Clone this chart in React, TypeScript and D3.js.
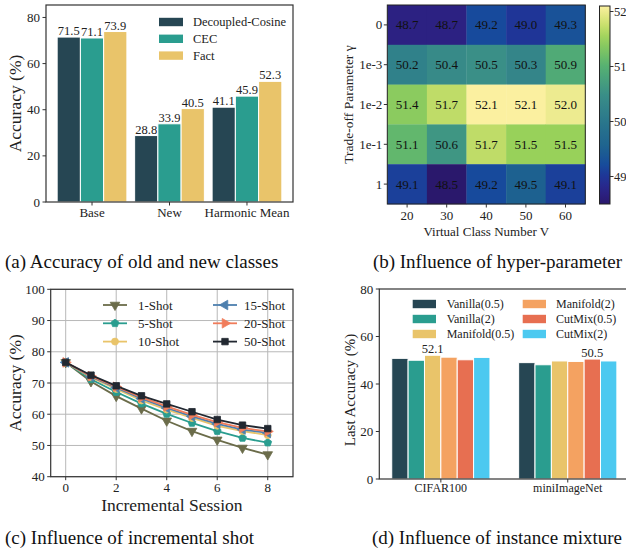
import React from 'react';
import * as d3 from 'd3';

// ---------- (a) data ----------
const groupsA = ['Base', 'New', 'Harmonic Mean'];
const methodsA = ['Decoupled-Cosine', 'CEC', 'Fact'];
const decoupledCosine = [71.5, 28.8, 41.1];
const cecVals = [71.1, 33.9, 45.9];
const factVals = [73.9, 40.5, 52.3];
const colorsA = ['#264653', '#2a9d8f', '#e9c46a'];
const yTicksA = [0, 20, 40, 60, 80];

// ---------- (b) data ----------
const virtualNums = ['20', '30', '40', '50', '60'];
const gammaLabels = ['0', '1e-3', '1e-2', '1e-1', '1'];
const row0 = [48.7, 48.7, 49.2, 49.0, 49.3];
const row1e3 = [50.2, 50.4, 50.5, 50.3, 50.9];
const row1e2 = [51.4, 51.7, 52.1, 52.1, 52.0];
const row1e1 = [51.1, 50.6, 51.7, 51.5, 51.5];
const row1 = [49.1, 48.5, 49.2, 49.5, 49.1];
const cbTicks = [49, 50, 51, 52];
const cmapStops = [48.5, 48.75, 49.0, 49.2, 49.5, 50.0, 50.5, 51.0, 51.5, 51.8, 52.1];
const cmapColors = ['#2a186c', '#2c2388', '#1f3597', '#174a9c', '#1d6190', '#2a778c', '#3a8f87', '#55b172', '#98d15a', '#d2e26f', '#fbf0a0'];

// ---------- (c) data ----------
const sessions = [0, 1, 2, 3, 4, 5, 6, 7, 8];
const shotNames = ['1-Shot', '5-Shot', '10-Shot', '15-Shot', '20-Shot', '50-Shot'];
const shot1 = [76.6, 70.5, 65.8, 61.8, 57.9, 54.6, 51.8, 49.2, 47.1];
const shot5 = [76.6, 71.2, 67.1, 63.4, 60.1, 57.2, 54.6, 52.4, 50.9];
const shot10 = [76.6, 71.8, 68.1, 64.4, 61.5, 58.8, 56.3, 54.6, 53.3];
const shot15 = [76.6, 72.0, 68.5, 65.0, 62.0, 59.3, 56.9, 55.1, 54.0];
const shot20 = [76.6, 72.2, 68.8, 65.4, 62.5, 59.8, 57.5, 55.6, 54.5];
const shot50 = [76.6, 72.5, 69.1, 65.9, 63.3, 60.8, 58.3, 56.5, 55.4];
const shotColors = ['#6b6c4a', '#2a9d8f', '#e9c46a', '#4d7fae', '#f07c5b', '#222831'];
const shotMarkers = ['v', 'p', 'o', '<', '>', 's'];
const xTicksC = [0, 2, 4, 6, 8];
const yTicksC = [40, 50, 60, 70, 80, 90, 100];

// ---------- (d) data ----------
const datasetsD = ['CIFAR100', 'miniImageNet'];
const mixNames = ['Vanilla(0.5)', 'Vanilla(2)', 'Manifold(0.5)', 'Manifold(2)', 'CutMix(0.5)', 'CutMix(2)'];
const cifarVals = [50.8, 50.0, 52.1, 51.3, 50.2, 51.2];
const miniVals = [49.0, 48.1, 49.7, 49.5, 50.5, 49.7];
const colorsD = ['#264653', '#2a9d8f', '#e9c46a', '#f4a261', '#e76f51', '#4cc9f0'];
const yTicksD = [0, 20, 40, 60, 80];
const annotD = [{ g: 0, i: 2, text: '52.1' }, { g: 1, i: 4, text: '50.5' }];

const FONT = '"Liberation Serif", "Times New Roman", serif';
const SPINE = '#333';

const symbolPentagon = {
  draw(ctx: any, size: number) {
    const r = Math.sqrt(size / ((5 / 2) * Math.sin((2 * Math.PI) / 5)));
    for (let i = 0; i < 5; i++) {
      const a = -Math.PI / 2 + (i * 2 * Math.PI) / 5;
      const x = r * Math.cos(a);
      const y = r * Math.sin(a);
      if (i === 0) ctx.moveTo(x, y);
      else ctx.lineTo(x, y);
    }
    ctx.closePath();
  },
};

function markerPath(m: string) {
  if (m === 'o') return { d: d3.symbol().type(d3.symbolCircle).size(38)() as string, rot: 0 };
  if (m === 's') return { d: d3.symbol().type(d3.symbolSquare).size(42)() as string, rot: 0 };
  if (m === 'p') return { d: d3.symbol().type(symbolPentagon as any).size(40)() as string, rot: 0 };
  const tri = d3.symbol().type(d3.symbolTriangle).size(40)() as string;
  if (m === 'v') return { d: tri, rot: 180 };
  if (m === '<') return { d: tri, rot: -90 };
  return { d: tri, rot: 90 };
}

function Marker({ m, x, y, color }: { m: string; x: number; y: number; color: string }) {
  const p = markerPath(m);
  return <path d={p.d} transform={`translate(${x},${y}) rotate(${p.rot})`} fill={color} stroke={color} strokeWidth={0.8} />;
}

function PanelA() {
  const L = 46, R = 293, T = 5, B = 202;
  const x = d3.scaleLinear().domain([-0.594, 2.594]).range([L, R]);
  const y = d3.scaleLinear().domain([0, 85.4]).range([B, T]);
  const series = [decoupledCosine, cecVals, factVals];
  const bw = 0.3;
  return (
    <g>
      {series.map((vals, si) =>
        vals.map((v, gi) => {
          const cx = x(gi + (si - 1) * bw);
          const x0 = x(gi + (si - 1) * bw - bw / 2);
          const x1 = x(gi + (si - 1) * bw + bw / 2);
          return (
            <g key={`${si}-${gi}`}>
              <rect x={x0} y={y(v)} width={x1 - x0} height={y(0) - y(v)} fill={colorsA[si]} stroke="#fff" strokeWidth={1} />
              <text x={cx} y={y(v) - 2} textAnchor="middle" fontSize={12.5} fontFamily={FONT} fill="#222">{v.toFixed(1)}</text>
            </g>
          );
        })
      )}
      <rect x={L} y={T} width={R - L} height={B - T} fill="none" stroke={SPINE} strokeWidth={1.2} />
      {yTicksA.map((t) => (
        <g key={t}>
          <line x1={L - 3.5} x2={L} y1={y(t)} y2={y(t)} stroke={SPINE} />
          <text x={L - 6} y={y(t)} dy="0.35em" textAnchor="end" fontSize={13} fontFamily={FONT} fill="#222">{t}</text>
        </g>
      ))}
      {groupsA.map((g, gi) => (
        <g key={g}>
          <line x1={x(gi)} x2={x(gi)} y1={B} y2={B + 3.5} stroke={SPINE} />
          <text x={x(gi)} y={217} textAnchor="middle" fontSize={13} fontFamily={FONT} fill="#222">{g}</text>
        </g>
      ))}
      <text transform={`translate(15,${(T + B) / 2}) rotate(-90)`} dy="0.35em" textAnchor="middle" fontSize={17.5} fontFamily={FONT} fill="#222">Accuracy (%)</text>
      {methodsA.map((m, i) => (
        <g key={m}>
          <rect x={159} y={22 + i * 16.8 - 4.2} width={24} height={8.4} fill={colorsA[i]} />
          <text x={193} y={22 + i * 16.8} dy="0.35em" fontSize={12.5} fontFamily={FONT} fill="#222">{m}</text>
        </g>
      ))}
    </g>
  );
}

function PanelB() {
  const L = 387.3, R = 585.3, T = 5, B = 204;
  const rows = [row0, row1e3, row1e2, row1e1, row1];
  const xb = d3.scaleBand().domain(virtualNums).range([L, R]);
  const yb = d3.scaleBand().domain(gammaLabels).range([T, B]);
  const color = d3.scaleLinear<string>().domain(cmapStops).range(cmapColors).interpolate(d3.interpolateRgb);
  const cbL = 599.5, cbR = 610, cbT = 6, cbB = 204;
  const cy = d3.scaleLinear().domain([48.5, 52.1]).range([cbB, cbT]);
  const gradStops = d3.range(0, 1.0001, 0.05);
  return (
    <g>
      <defs>
        <linearGradient id="cbgrad" x1="0" y1="1" x2="0" y2="0">
          {gradStops.map((t) => (
            <stop key={t} offset={`${t * 100}%`} stopColor={color(48.5 + t * 3.6)} />
          ))}
        </linearGradient>
      </defs>
      {rows.map((vals, ri) =>
        vals.map((v, ci) => (
          <g key={`${ri}-${ci}`}>
            <rect x={xb(virtualNums[ci])!} y={yb(gammaLabels[ri])!} width={xb.bandwidth() + 0.3} height={yb.bandwidth() + 0.3} fill={color(v)} />
            <text x={xb(virtualNums[ci])! + xb.bandwidth() / 2} y={yb(gammaLabels[ri])! + yb.bandwidth() / 2} dy="0.35em" textAnchor="middle" fontSize={13} fontFamily={FONT} fill="#111">{v.toFixed(1)}</text>
          </g>
        ))
      )}
      <rect x={L} y={T} width={R - L} height={B - T} fill="none" stroke="#222" strokeWidth={1} />
      {virtualNums.map((v) => (
        <g key={v}>
          <line x1={xb(v)! + xb.bandwidth() / 2} x2={xb(v)! + xb.bandwidth() / 2} y1={B} y2={B + 3.5} stroke={SPINE} />
          <text x={xb(v)! + xb.bandwidth() / 2} y={220} textAnchor="middle" fontSize={13} fontFamily={FONT} fill="#222">{v}</text>
        </g>
      ))}
      {gammaLabels.map((g) => (
        <g key={g}>
          <line x1={L - 3.5} x2={L} y1={yb(g)! + yb.bandwidth() / 2} y2={yb(g)! + yb.bandwidth() / 2} stroke={SPINE} />
          <text x={L - 5} y={yb(g)! + yb.bandwidth() / 2} dy="0.35em" textAnchor="end" fontSize={13} fontFamily={FONT} fill="#222">{g}</text>
        </g>
      ))}
      <text x={(L + R) / 2} y={236} textAnchor="middle" fontSize={13} fontFamily={FONT} fill="#222">Virtual Class Number V</text>
      <text transform={`translate(348,${(T + B) / 2}) rotate(-90)`} dy="0.35em" textAnchor="middle" fontSize={13.5} fontFamily={FONT} fill="#222">Trade-off Parameter γ</text>
      <rect x={cbL} y={cbT} width={cbR - cbL} height={cbB - cbT} fill="url(#cbgrad)" stroke="#222" strokeWidth={1} />
      {cbTicks.map((t) => (
        <g key={t}>
          <line x1={cbR} x2={cbR + 3.5} y1={cy(t)} y2={cy(t)} stroke={SPINE} />
          <text x={cbR + 4} y={cy(t)} dy="0.35em" fontSize={12.5} fontFamily={FONT} fill="#222">{t}</text>
        </g>
      ))}
    </g>
  );
}

function PanelC() {
  const L = 50.7, R = 293, T = 289.3, B = 476.7;
  const x = d3.scaleLinear().domain([-0.594, 9.0]).range([L, R]);
  const y = d3.scaleLinear().domain([40, 100]).range([B, T]);
  const series = [shot1, shot5, shot10, shot15, shot20, shot50];
  const line = d3.line<number>().x((_, i) => x(sessions[i])).y((d) => y(d));
  return (
    <g>
      {xTicksC.map((t) => (
        <line key={`gx${t}`} x1={x(t)} x2={x(t)} y1={T} y2={B} stroke="#b8b8b8" strokeWidth={1} />
      ))}
      {yTicksC.map((t) => (
        <line key={`gy${t}`} x1={L} x2={R} y1={y(t)} y2={y(t)} stroke="#b8b8b8" strokeWidth={1} />
      ))}
      {series.map((vals, si) => (
        <g key={si}>
          <path d={line(vals) as string} fill="none" stroke={shotColors[si]} strokeWidth={1.8} />
          {vals.map((v, i) => (
            <Marker key={i} m={shotMarkers[si]} x={x(sessions[i])} y={y(v)} color={shotColors[si]} />
          ))}
        </g>
      ))}
      <rect x={L} y={T} width={R - L} height={B - T} fill="none" stroke={SPINE} strokeWidth={1.2} />
      {yTicksC.map((t) => (
        <g key={t}>
          <line x1={L - 3.5} x2={L} y1={y(t)} y2={y(t)} stroke={SPINE} />
          <text x={L - 6} y={y(t)} dy="0.35em" textAnchor="end" fontSize={13} fontFamily={FONT} fill="#222">{t}</text>
        </g>
      ))}
      {xTicksC.map((t) => (
        <g key={t}>
          <line x1={x(t)} x2={x(t)} y1={B} y2={B + 3.5} stroke={SPINE} />
          <text x={x(t)} y={492} textAnchor="middle" fontSize={13} fontFamily={FONT} fill="#222">{t}</text>
        </g>
      ))}
      <text x={(L + R) / 2} y={511} textAnchor="middle" fontSize={17.5} fontFamily={FONT} fill="#222">Incremental Session</text>
      <text transform={`translate(15,${(T + B) / 2}) rotate(-90)`} dy="0.35em" textAnchor="middle" fontSize={17.5} fontFamily={FONT} fill="#222">Accuracy (%)</text>
      {shotNames.map((n, i) => {
        const col = Math.floor(i / 3);
        const row = i % 3;
        const hx0 = col === 0 ? 103 : 213;
        const tx = col === 0 ? 138 : 244;
        const ly = 305 + row * 18.3;
        return (
          <g key={n}>
            <line x1={hx0} x2={hx0 + 24} y1={ly} y2={ly} stroke={shotColors[i]} strokeWidth={1.8} />
            <Marker m={shotMarkers[i]} x={hx0 + 12} y={ly} color={shotColors[i]} />
            <text x={tx} y={ly} dy="0.35em" fontSize={13} fontFamily={FONT} fill="#222">{n}</text>
          </g>
        );
      })}
    </g>
  );
}

function PanelD() {
  const L = 379.3, T = 289, B = 479;
  const x = d3.scaleLinear().domain([-0.485, 1.485]).range([L, 629.3]);
  const R = x(1.485);
  const y = d3.scaleLinear().domain([0, 80]).range([B, T]);
  const groups = [cifarVals, miniVals];
  const bw = 0.129;
  return (
    <g>
      {groups.map((vals, gi) =>
        vals.map((v, i) => {
          const off = (i - 2.5) * bw;
          const x0 = x(gi + off - bw / 2);
          const x1 = x(gi + off + bw / 2);
          return <rect key={`${gi}-${i}`} x={x0} y={y(v)} width={x1 - x0} height={y(0) - y(v)} fill={colorsD[i]} stroke="#fff" strokeWidth={1} />;
        })
      )}
      {annotD.map((a) => {
        const v = groups[a.g][a.i];
        return (
          <text key={a.text} x={x(a.g + (a.i - 2.5) * bw)} y={y(v) - 2} textAnchor="middle" fontSize={12.5} fontFamily={FONT} fill="#222">{a.text}</text>
        );
      })}
      <rect x={L} y={T} width={R - L} height={B - T} fill="none" stroke={SPINE} strokeWidth={1.2} />
      {yTicksD.map((t) => (
        <g key={t}>
          <line x1={L - 3.5} x2={L} y1={y(t)} y2={y(t)} stroke={SPINE} />
          <text x={L - 6} y={y(t)} dy="0.35em" textAnchor="end" fontSize={13} fontFamily={FONT} fill="#222">{t}</text>
        </g>
      ))}
      {datasetsD.map((d, gi) => (
        <g key={d}>
          <line x1={x(gi)} x2={x(gi)} y1={B} y2={B + 3.5} stroke={SPINE} />
          <text x={x(gi)} y={492} textAnchor="middle" fontSize={12} fontFamily={FONT} fill="#222">{d}</text>
        </g>
      ))}
      <text transform={`translate(350,390) rotate(-90)`} dy="0.35em" textAnchor="middle" fontSize={15} fontFamily={FONT} fill="#222">Last Accuracy (%)</text>
      {mixNames.map((n, i) => {
        const col = Math.floor(i / 3);
        const row = i % 3;
        const px = col === 0 ? 412.7 : 522.7;
        const tx = col === 0 ? 446.7 : 556;
        const ly = 304 + row * 15;
        return (
          <g key={n}>
            <rect x={px} y={ly - 4.2} width={23.3} height={8.4} fill={colorsD[i]} />
            <text x={tx} y={ly} dy="0.35em" fontSize={12} fontFamily={FONT} fill="#222">{n}</text>
          </g>
        );
      })}
    </g>
  );
}

export default function App() {
  return (
    <svg width={626} height={551} viewBox="0 0 626 551" style={{ position: 'absolute', left: 0, top: 0, background: '#fff' }}>
      <rect x={0} y={0} width={626} height={551} fill="#fff" />
      <PanelA />
      <PanelB />
      <PanelC />
      <PanelD />
      <text x={5} y={268} fontSize={19} fontFamily={FONT} fill="#111">(a) Accuracy of old and new classes</text>
      <text x={622} y={268} textAnchor="end" fontSize={19} fontFamily={FONT} fill="#111">(b) Influence of hyper-parameter</text>
      <text x={5} y={544} fontSize={19} fontFamily={FONT} fill="#111">(c) Influence of incremental shot</text>
      <text x={622} y={544} textAnchor="end" fontSize={19} fontFamily={FONT} fill="#111">(d) Influence of instance mixture</text>
    </svg>
  );
}
